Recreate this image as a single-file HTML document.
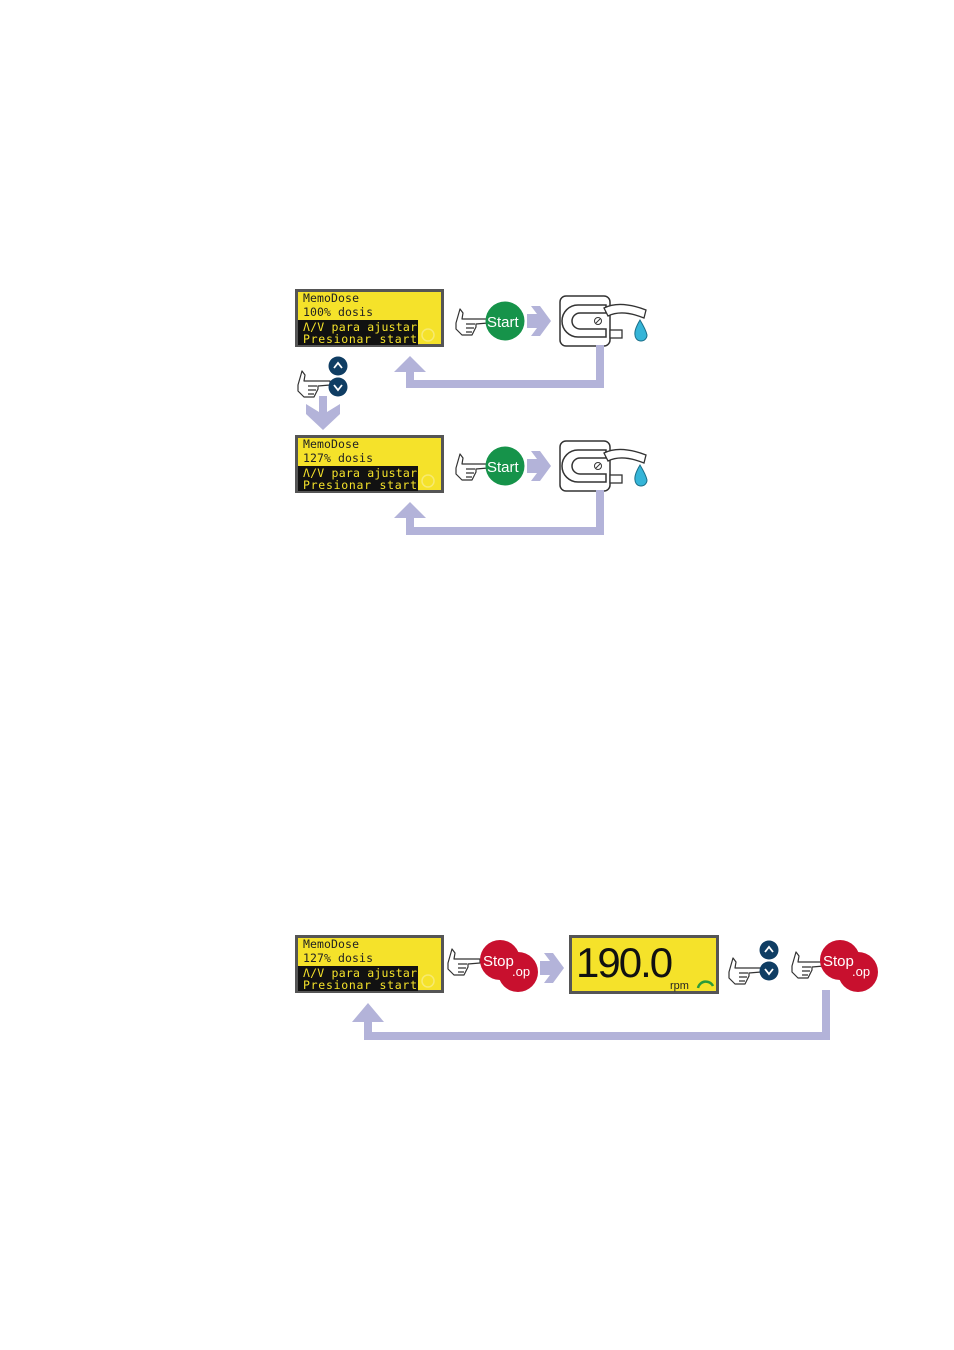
<!DOCTYPE html>
<html><head><meta charset="utf-8"><style>
html,body{margin:0;padding:0;background:#fff}
svg{display:block}
.m{font-family:"DejaVu Sans Mono","Liberation Mono",monospace;font-size:11.5px}
.s{font-family:"Liberation Sans",sans-serif}
</style></head><body>
<svg width="954" height="1350" viewBox="0 0 954 1350" xmlns="http://www.w3.org/2000/svg">
<defs>
<g id="lcd">
  <rect x="1.5" y="1.5" width="146" height="55" fill="#f5e22a" stroke="#555" stroke-width="3"/>
  <rect x="3" y="31" width="120" height="25" fill="#111"/>
  <circle cx="133" cy="46" r="6" fill="none" stroke="#f7ea70" stroke-width="1.5"/>
  <text class="m" x="8" y="13" fill="#222" textLength="56">MemoDose</text>
  <text class="m" x="8" y="42" fill="#f5e22a" textLength="114">Λ/V para ajustar</text>
  <text class="m" x="8" y="54" fill="#f5e22a" textLength="114"> Presionar start</text>
</g>
<g id="hand" fill="#fff" stroke="#333" stroke-width="1.2" stroke-linejoin="round">
  <path d="M2 18 L6 4 L9 8 L8 14 L34 14 L34 18 L22 19 L22 22 L20 26 L18 30 L8 30 L2 24 Z"/>
  <path d="M12 19 L21 19 M12 23 L20 23 M12 27 L18 27" fill="none"/>
</g>
<g id="pump">
  <rect x="0" y="0" width="50" height="50" rx="6" fill="#fff" stroke="#333" stroke-width="1.5"/>
  <path d="M46 9 L18 9 A16 16 0 0 0 18 41 L46 41 L46 33 L20 33 A8 8 0 0 1 20 17 L46 17 Z" fill="#fff" stroke="#333" stroke-width="1.5"/>
  <circle cx="38" cy="25" r="3.5" fill="#fff" stroke="#333"/>
  <path d="M36 27 L40 23" stroke="#333"/>
  <rect x="50" y="34" width="12" height="8" fill="#fff" stroke="#333" stroke-width="1.3"/>
  <path d="M44 12 Q60 4 86 14 L84 22 Q62 13 48 20 Z" fill="#fff" stroke="#333" stroke-width="1.3"/>
  <path d="M80 24 Q74 34 75 39 A6 6 0 0 0 87 39 Q86 34 80 24 Z" fill="#35b5d8" stroke="#1a6e88" stroke-width="1"/>
</g>
<g id="updn">
  <circle cx="0" cy="0" r="9.5" fill="#0f3d63"/>
  <path d="M-4 2 L0 -3 L4 2" fill="none" stroke="#fff" stroke-width="1.8"/>
  <circle cx="0" cy="21" r="9.5" fill="#0f3d63"/>
  <path d="M-4 19 L0 24 L4 19" fill="none" stroke="#fff" stroke-width="1.8"/>
</g>
<g id="stop">
  <circle cx="0" cy="0" r="20" fill="#c8102e"/>
  <circle cx="18" cy="12" r="20" fill="#c8102e"/>
  <text class="s" x="-17" y="6" fill="#fff" font-size="15">Stop</text>
  <text class="s" x="12" y="16" fill="#fff" font-size="13">.op</text>
</g>
<g id="start">
  <circle cx="0" cy="0" r="19.5" fill="#16934a"/>
  <text class="s" x="-18" y="6" fill="#fff" font-size="15">Start</text>
</g>
<g id="rarr"><path d="M0 -7 L10 -7 L4 -15 L13 -15 L24 0 L13 15 L4 15 L10 7 L0 7 Z" fill="#b3b3d9"/></g>
</defs>

<g transform="translate(295,289)"><use href="#lcd"/><text class="m" x="8" y="27" fill="#222" textLength="70">100% dosis</text></g>
<use href="#hand" transform="translate(454,305)"/>
<use href="#start" transform="translate(505,321)"/>
<use href="#rarr" transform="translate(527,321)"/>
<use href="#pump" transform="translate(560,296)"/>
<path d="M596 345 L604 345 L604 388 L406 388 L406 380 L596 380 Z" fill="#b3b3d9"/>
<path d="M406 384 L406 372 L394 372 L410 356 L426 372 L414 372 L414 384 Z" fill="#b3b3d9"/>

<use href="#hand" transform="translate(296,367)"/>
<use href="#updn" transform="translate(338,366)"/>
<path d="M319 396 L327 396 L327 412 L340 404 L340 414 L323 430 L306 414 L306 404 L319 412 Z" fill="#b3b3d9"/>

<g transform="translate(295,435)"><use href="#lcd"/><text class="m" x="8" y="27" fill="#222" textLength="70">127% dosis</text></g>
<use href="#hand" transform="translate(454,450)"/>
<use href="#start" transform="translate(505,466)"/>
<use href="#rarr" transform="translate(527,466)"/>
<use href="#pump" transform="translate(560,441)"/>
<path d="M596 490 L604 490 L604 535 L406 535 L406 527 L596 527 Z" fill="#b3b3d9"/>
<path d="M406 530 L406 518 L394 518 L410 502 L426 518 L414 518 L414 530 Z" fill="#b3b3d9"/>

<g transform="translate(295,935)"><use href="#lcd"/><text class="m" x="8" y="27" fill="#222" textLength="70">127% dosis</text></g>
<use href="#hand" transform="translate(446,945)"/>
<use href="#stop" transform="translate(500,960)"/>
<use href="#rarr" transform="translate(540,968)"/>
<rect x="570.5" y="936.5" width="147" height="56" fill="#f5e22a" stroke="#555" stroke-width="3"/>
<text class="s" x="576" y="977" font-size="42" fill="#111" letter-spacing="-2">190.0</text>
<text class="s" x="670" y="989" font-size="11" fill="#222">rpm</text>
<path d="M698 988 A8 8 0 0 1 713 986" fill="none" stroke="#2a9a3a" stroke-width="2.5"/>
<use href="#hand" transform="translate(727,954)"/>
<use href="#updn" transform="translate(769,950)"/>
<use href="#hand" transform="translate(790,948)"/>
<use href="#stop" transform="translate(840,960)"/>
<path d="M822 990 L830 990 L830 1040 L364 1040 L364 1032 L822 1032 Z" fill="#b3b3d9"/>
<path d="M364 1036 L364 1022 L352 1022 L368 1003 L384 1022 L372 1022 L372 1036 Z" fill="#b3b3d9"/>
</svg>
</body></html>
